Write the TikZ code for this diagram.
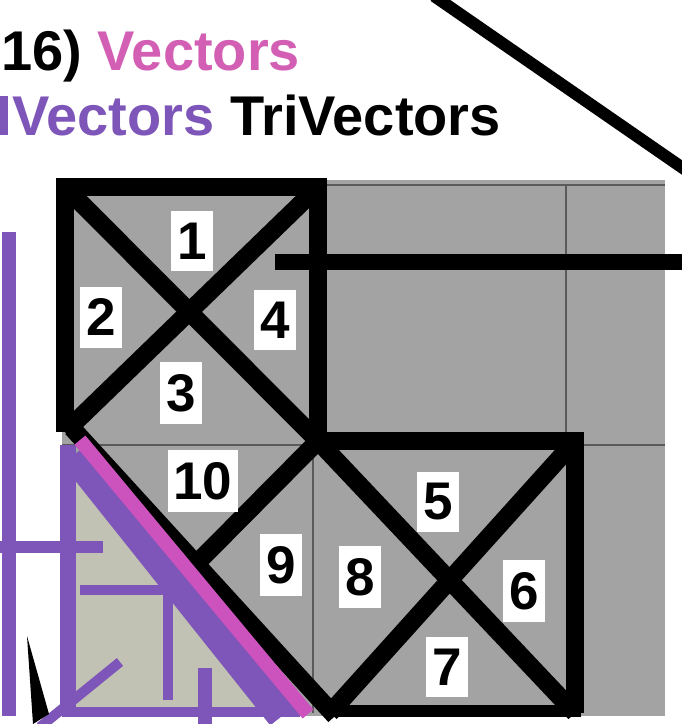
\documentclass[tikz,border=0pt]{standalone}
\usepackage{fontspec}
\setmainfont{Liberation Sans}
\usepackage{tikz}
\usepackage{xcolor}

\definecolor{pinkv}{HTML}{D35FB4}
\definecolor{purplev}{HTML}{7E55B8}
\definecolor{bgray}{HTML}{A3A3A3}
\definecolor{lightfill}{HTML}{C2C2B4}
\definecolor{gridgray}{HTML}{5A5A5A}
\definecolor{magline}{HTML}{CC52BE}

\begin{document}
\begin{tikzpicture}[x=1pt,y=-1pt,
  heavy/.style={line width=18pt,line join=miter},
  pline/.style={purplev,line width=12pt},
  gridline/.style={gridgray,line width=2.5pt},
  numbox/.style={fill=white,inner xsep=6pt,inner ysep=12pt,
    font=\fontsize{53}{53}\selectfont\bfseries}]
  \useasboundingbox (0,0) rectangle (682,724);
  \clip (0,0) rectangle (682,724);
  \fill[white] (0,0) rectangle (682,724);

  \fill[bgray] (62,180) rectangle (665,716);
  \fill[lightfill] (68,445) -- (68,712) -- (292,712) -- cycle;

  \draw[gridline] (62,185) -- (665,185);
  \draw[gridline] (62,445) -- (665,445);
  \draw[gridline] (566,185) -- (566,441);
  \draw[gridline] (313,441) -- (313,713);

  \draw[heavy] (65,432) -- (65,187) -- (318,187) -- (318,441) -- (575,441) -- (575,713);
  \draw[line width=12pt] (330,711) -- (581,711);
  \draw[heavy] (65,187) -- (318,441) -- (575,713);
  \draw[heavy] (318,187) -- (65,432);
  \draw[heavy] (72,428) -- (335,716);
  \draw[heavy] (575,441) -- (330,713);
  \draw[heavy] (318,441) -- (197,563);

  \draw[pline,line width=14pt] (9,232) -- (9,716);
  \draw[pline] (0,547) -- (103,547);
  \draw[pline,line width=16pt] (68,445) -- (68,716);
  \draw[pline,line width=10pt] (62,712) -- (300,712);
  \draw[pline,line width=10pt] (80,590) -- (172,590);
  \draw[pline,line width=10pt] (168,585) -- (168,700);
  \draw[pline,line width=14pt] (205,668) -- (205,726);
  \draw[pline,line width=10pt] (40,727) -- (120,662);
  \draw[pline,line width=30pt] (74,455) -- (282,716);
  \draw[magline,line width=14pt] (80,440) -- (308,714);

  \fill (27,636) -- (33,724) -- (49,714) -- cycle;

  \foreach \x/\y/\n in {192/241/1,101/317/2,181/393/3,275/320/4,438/502/5,
                        524/591/6,447/667/7,360/577/8,281/565/9,203/481/10}
    \node[numbox] (n\n) at (\x,\y) {\n};

  \draw[line width=16pt] (275,262) -- (690,262);
  \draw[line width=12pt] (434,-4) -- (690,173);

  \fill[purplev] (0,96) rectangle (8,135);
  \node[anchor=base west,inner sep=0pt,font=\fontsize{56}{60}\selectfont\bfseries]
    (title) at (1,70) {16) \textcolor{pinkv}{Vectors}};
  \node[anchor=base west,inner sep=0pt,font=\fontsize{56}{60}\selectfont\bfseries]
    (kinds) at (12,135) {\textcolor{purplev}{Vectors} TriVectors};
\end{tikzpicture}
\end{document}
